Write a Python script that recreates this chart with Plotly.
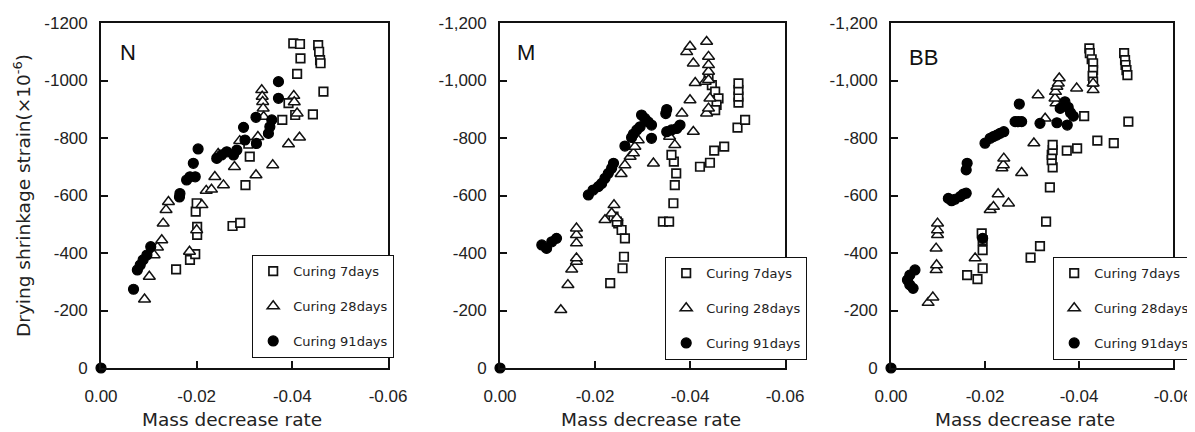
import plotly.graph_objects as go

# ---------------- tick labels / categories ----------------
X_TICK_VALS = [0.0, -0.02, -0.04, -0.06]
X_TICK_TEXT = ["0.00", "-0.02", "-0.04", "-0.06"]
Y_TICK_VALS = [0, -200, -400, -600, -800, -1000, -1200]
Y_TICK_TEXT_N = ["0", "-200", "-400", "-600", "-800", "-1000", "-1200"]
Y_TICK_TEXT_MB = ["0", "-200", "-400", "-600", "-800", "-1,000", "-1,200"]
PANELS = ["N", "M", "BB"]
SERIES = ["Curing 7days", "Curing 28days", "Curing 91days"]

# ---------------- panel N ----------------
N_7_X = [-0.0157, -0.0186, -0.0197, -0.0201, -0.0201, -0.0198, -0.0200, -0.0275, -0.0291,
         -0.0302, -0.0311, -0.0379, -0.0406, -0.0392, -0.0443, -0.0465, -0.0410, -0.0417,
         -0.0402, -0.0416, -0.0454, -0.0456, -0.0458, -0.0459, -0.0308]
N_7_Y = [-343, -376, -396, -463, -491, -544, -573, -494, -505,
         -636, -735, -863, -880, -921, -882, -961, -1023, -1077,
         -1129, -1127, -1123, -1100, -1071, -1060, -780]
N_28_X = [-0.0091, -0.0101, -0.0111, -0.0118, -0.0127, -0.0130, -0.0136, -0.0141, -0.0185,
          -0.0200, -0.0211, -0.0220, -0.0231, -0.0238, -0.0256, -0.0279, -0.0324, -0.0359,
          -0.0392, -0.0415, -0.0410, -0.0403, -0.0404, -0.0336, -0.0337, -0.0338, -0.0339,
          -0.0340, -0.0328, -0.0290, -0.0245]
N_28_Y = [-239, -318, -393, -420, -445, -503, -550, -578, -405,
          -480, -567, -617, -621, -665, -636, -700, -671, -706,
          -779, -802, -886, -947, -925, -967, -944, -926, -903,
          -874, -804, -790, -745]
N_91_X = [0.0, -0.0068, -0.0076, -0.0082, -0.0088, -0.0096, -0.0104, -0.0164, -0.0165,
          -0.0179, -0.0186, -0.0197, -0.0193, -0.0203, -0.0242, -0.0252, -0.0263, -0.0277,
          -0.0284, -0.0298, -0.0301, -0.0325, -0.0324, -0.0350, -0.0353, -0.0357, -0.0371,
          -0.0371]
N_91_Y = [0, -274, -341, -358, -376, -393, -422, -595, -607,
          -654, -665, -665, -712, -762, -729, -741, -752, -741,
          -758, -837, -793, -781, -872, -816, -839, -863, -938,
          -996]

# ---------------- panel M ----------------
M_7_X = [-0.0232, -0.0239, -0.0249, -0.0256, -0.0263, -0.0261, -0.0258, -0.0343, -0.0356,
         -0.0365, -0.0368, -0.0371, -0.0366, -0.0361, -0.0421, -0.0442, -0.0451, -0.0472,
         -0.0500, -0.0516, -0.0502, -0.0502, -0.0502, -0.0502, -0.0439, -0.0446, -0.0453,
         -0.0460, -0.0456, -0.0453, -0.0246]
M_7_Y = [-295, -527, -503, -480, -451, -387, -347, -509, -509,
         -573, -636, -677, -718, -741, -700, -714, -756, -770,
         -836, -863, -923, -944, -967, -990, -1008, -984, -961,
         -938, -915, -897, -509]
M_28_X = [-0.0128, -0.0143, -0.0151, -0.0161, -0.0161, -0.0161, -0.0161, -0.0161, -0.0221,
          -0.0235, -0.0240, -0.0246, -0.0255, -0.0263, -0.0274, -0.0281, -0.0284, -0.0291,
          -0.0323, -0.0357, -0.0368, -0.0383, -0.0400, -0.0407, -0.0411, -0.0432, -0.0435,
          -0.0439, -0.0442, -0.0439, -0.0439, -0.0439, -0.0439, -0.0407, -0.0393, -0.0400,
          -0.0435]
M_28_Y = [-202, -289, -343, -370, -382, -434, -463, -486, -515,
          -538, -567, -521, -675, -706, -735, -747, -770, -793,
          -712, -805, -776, -886, -932, -822, -992, -996, -886,
          -903, -938, -1002, -1031, -1054, -1083, -1060, -1100, -1118,
          -1135]
M_91_X = [0.0, -0.0088, -0.0098, -0.0109, -0.0119, -0.0186, -0.0196, -0.0207, -0.0214,
          -0.0221, -0.0228, -0.0235, -0.0239, -0.0263, -0.0277, -0.0281, -0.0288, -0.0295,
          -0.0298, -0.0305, -0.0312, -0.0319, -0.0319, -0.0349, -0.0351, -0.0351, -0.0361,
          -0.0372, -0.0379]
M_91_Y = [0, -428, -416, -439, -451, -602, -619, -631, -642,
          -660, -677, -695, -712, -772, -802, -814, -828, -839,
          -880, -868, -856, -845, -799, -885, -899, -822, -828,
          -833, -845]

# ---------------- panel BB ----------------
BB_7_X = [-0.0162, -0.0184, -0.0195, -0.0195, -0.0195, -0.0193, -0.0297, -0.0317, -0.0330,
          -0.0338, -0.0344, -0.0342, -0.0342, -0.0344, -0.0344, -0.0374, -0.0396, -0.0411,
          -0.0439, -0.0474, -0.0505, -0.0422, -0.0423, -0.0427, -0.0430, -0.0430, -0.0429,
          -0.0430, -0.0496, -0.0498, -0.0499, -0.0501, -0.0503]
BB_7_Y = [-323, -309, -347, -410, -445, -468, -384, -424, -509,
          -628, -698, -723, -741, -758, -776, -756, -764, -876,
          -791, -782, -857, -1112, -1095, -1074, -1060, -1036, -1016,
          -996, -1095, -1071, -1054, -1036, -1019]
BB_28_X = [-0.0079, -0.0089, -0.0096, -0.0097, -0.0096, -0.0099, -0.0099, -0.0099, -0.0179,
           -0.0211, -0.0218, -0.0228, -0.0250, -0.0236, -0.0239, -0.0240, -0.0278, -0.0304,
           -0.0328, -0.0313, -0.0351, -0.0349, -0.0350, -0.0353, -0.0356, -0.0358, -0.0395,
           -0.0430, -0.0430]
BB_28_Y = [-227, -246, -341, -358, -416, -463, -480, -503, -382,
           -550, -561, -605, -573, -695, -706, -729, -679, -782,
           -868, -949, -921, -938, -961, -979, -990, -1008, -973,
           -967, -990]
BB_91_X = [0.0, -0.0047, -0.0040, -0.0035, -0.0040, -0.0051, -0.0122, -0.0129, -0.0136,
           -0.0147, -0.0154, -0.0160, -0.0160, -0.0162, -0.0195, -0.0200, -0.0211, -0.0218,
           -0.0225, -0.0232, -0.0240, -0.0264, -0.0271, -0.0278, -0.0273, -0.0317, -0.0353,
           -0.0360, -0.0370, -0.0377, -0.0382, -0.0388, -0.0375]
BB_91_Y = [0, -277, -289, -306, -323, -341, -590, -582, -587,
           -596, -605, -608, -689, -712, -451, -782, -799, -805,
           -810, -816, -822, -857, -857, -857, -918, -851, -853,
           -903, -926, -907, -888, -876, -845]

DATA = {
    "N": [(N_7_X, N_7_Y), (N_28_X, N_28_Y), (N_91_X, N_91_Y)],
    "M": [(M_7_X, M_7_Y), (M_28_X, M_28_Y), (M_91_X, M_91_Y)],
    "BB": [(BB_7_X, BB_7_Y), (BB_28_X, BB_28_Y), (BB_91_X, BB_91_Y)],
}

# The page body has an 8px margin, so the figure is drawn 8px smaller and
# all screen positions below are shifted by that offset.
OFF = 8
W, H = 1195 - OFF, 432 - OFF


def px(xs):
    return (xs - OFF) / W


def py(ys):
    return 1 - (ys - OFF) / H


X_DOMAINS = [(px(101), px(388)), (px(500), px(785)), (px(891), px(1173))]
Y_DOMAIN = (py(368), py(23))
LEGEND_POS = [(px(252), py(255), "left"), (px(665), py(257), "left"), (1.0, py(257), "right")]
LABEL_POS = [(0.094, 0.915), (0.09, 0.915), (0.115, 0.90)]
XTITLE_POS = [0.456, 0.530, 0.475]

MARKERS = [
    dict(symbol="square", size=8.5, color="white", line=dict(color="#111", width=1.7)),
    dict(symbol="triangle-up", size=10.5, color="white", line=dict(color="#111", width=1.5)),
    dict(symbol="circle", size=10, color="#000", line=dict(color="#000", width=1.2)),
]

TICK_FONT = dict(family="Liberation Sans, Arial, sans-serif", size=17, color="#222")
TEXT_FONT = dict(family="DejaVu Sans, sans-serif", size=18.5, color="#222")

fig = go.Figure()
for p, panel in enumerate(PANELS):
    sfx = "" if p == 0 else str(p + 1)
    leg = "legend" if p == 0 else f"legend{p + 1}"
    for s, (xs, ys) in enumerate(DATA[panel]):
        fig.add_trace(go.Scatter(
            x=xs, y=ys, mode="markers", name=SERIES[s],
            marker=MARKERS[s], xaxis="x" + sfx, yaxis="y" + sfx,
            legend=leg, legendgroup=f"{panel}{s}", cliponaxis=False,
            showlegend=True,
        ))

layout = dict(
    width=W, height=H, margin=dict(l=0, r=0, t=0, b=0, autoexpand=False),
    paper_bgcolor="white", plot_bgcolor="white", showlegend=True,
)
for p, panel in enumerate(PANELS):
    sfx = "" if p == 0 else str(p + 1)
    axis_common = dict(showline=True, linecolor="#111", linewidth=1.7, mirror=True,
                       showgrid=False, zeroline=False, ticks="inside", ticklen=7,
                       tickwidth=1.5, tickcolor="#111", tickfont=TICK_FONT,
                       ticklabeloverflow="allow")
    layout["xaxis" + sfx] = dict(
        axis_common, domain=X_DOMAINS[p], anchor="y" + sfx, range=[0, -0.06],
        tickmode="array", tickvals=X_TICK_VALS, ticktext=X_TICK_TEXT,
        ticklabelstandoff=12,
    )
    yax = dict(
        axis_common, domain=Y_DOMAIN, anchor="x" + sfx, range=[0, -1200],
        tickmode="array", tickvals=Y_TICK_VALS,
        ticktext=Y_TICK_TEXT_N if p == 0 else Y_TICK_TEXT_MB,
        ticklabelstandoff=8,
    )
    if p == 0:
        yax["title"] = dict(text="Drying shrinkage strain(×10<sup>-6</sup>)", font=TEXT_FONT, standoff=9)
    layout["yaxis" + sfx] = yax
    lx, ly, anchor = LEGEND_POS[p]
    layout["legend" if p == 0 else f"legend{p + 1}"] = dict(
        x=lx, y=ly, xanchor=anchor, yanchor="top", xref="paper", yref="paper",
        bgcolor="white", bordercolor="#111", borderwidth=1.2,
        font=dict(family="DejaVu Sans, sans-serif", size=13, color="#222"),
        tracegroupgap=15, itemwidth=30,
    )

fig.update_layout(**layout)

for p, panel in enumerate(PANELS):
    sfx = "" if p == 0 else str(p + 1)
    lx, ly = LABEL_POS[p]
    fig.add_annotation(text=panel, x=lx, y=ly, xref=f"x{sfx} domain", yref=f"y{sfx} domain",
                       xanchor="center", yanchor="middle", showarrow=False,
                       font=dict(family="Liberation Sans, Arial, sans-serif", size=22, color="#111"))
    fig.add_annotation(text="Mass decrease rate", x=XTITLE_POS[p], y=py(419),
                       xref=f"x{sfx} domain", yref="paper",
                       xanchor="center", yanchor="middle", showarrow=False,
                       font=TEXT_FONT)

fig.write_html("out.html")
